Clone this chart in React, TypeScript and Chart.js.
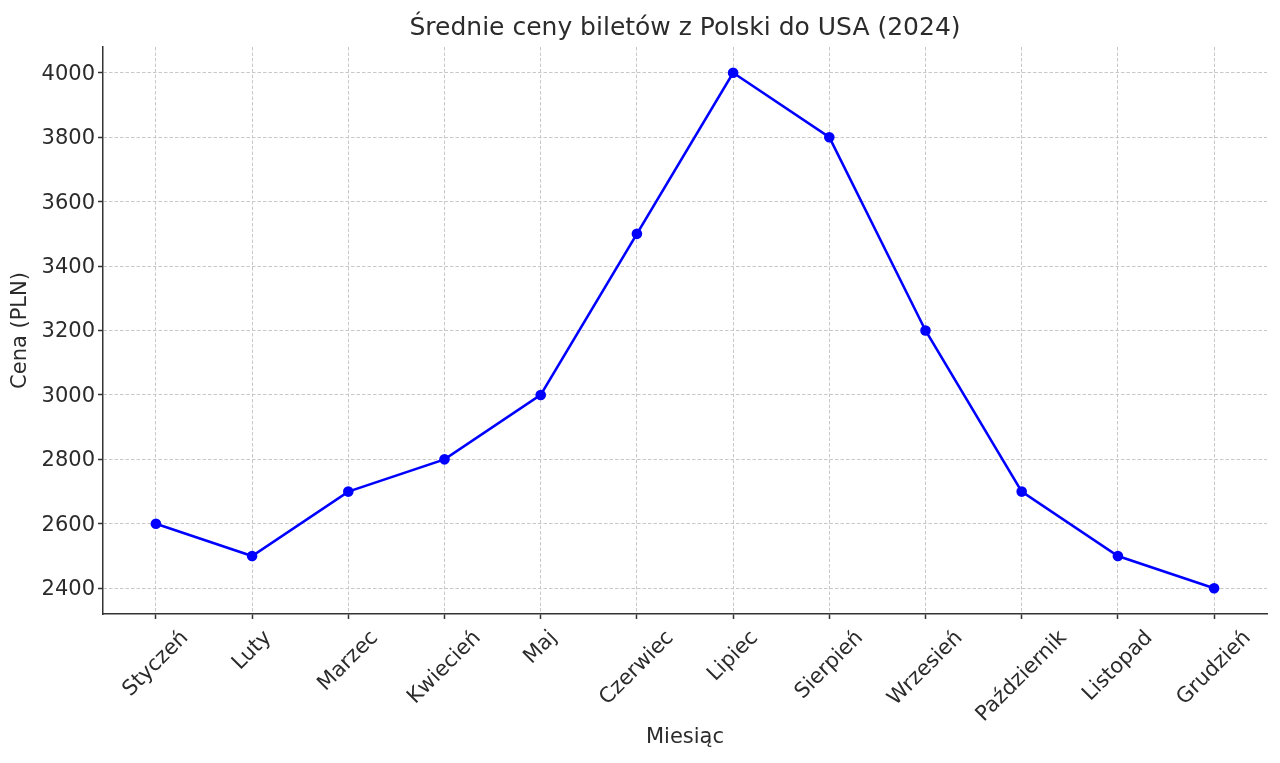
import React, { useEffect, useRef } from "react";
import { Chart, registerables } from "chart.js";

Chart.register(...registerables);

const MONTHS = [
  "Styczeń",
  "Luty",
  "Marzec",
  "Kwiecień",
  "Maj",
  "Czerwiec",
  "Lipiec",
  "Sierpień",
  "Wrzesień",
  "Październik",
  "Listopad",
  "Grudzień",
];
const PRICES = [2600, 2500, 2700, 2800, 3000, 3500, 4000, 3800, 3200, 2700, 2500, 2400];
const Y_TICKS = [2400, 2600, 2800, 3000, 3200, 3400, 3600, 3800, 4000];

const TITLE = "Średnie ceny biletów z Polski do USA (2024)";
const X_TITLE = "Miesiąc";
const Y_TITLE = "Cena (PLN)";

const FONT = "'DejaVu Sans', Verdana, sans-serif";
const TEXT = "#2b2b2b";
const SPINE = "#333333";
const GRID = "#c8c8c8";

const xLabelsPlugin = {
  id: "centeredRotatedXLabels",
  afterDraw(chart: any) {
    const scale = chart.scales.x;
    const ctx = chart.ctx;
    const size = 21;
    ctx.save();
    ctx.font = `${size}px ${FONT}`;
    ctx.fillStyle = TEXT;
    ctx.textAlign = "center";
    ctx.textBaseline = "middle";
    const h = size * 1.164;
    const top = scale.top + 5 + 7;
    const c = Math.SQRT1_2;
    scale.ticks.forEach((t: any) => {
      const label = MONTHS[t.value];
      if (label === undefined) return;
      const w = ctx.measureText(label).width;
      const cx = scale.getPixelForValue(t.value);
      const cy = top + ((w + h) * c) / 2;
      ctx.save();
      ctx.translate(cx, cy);
      ctx.rotate(-Math.PI / 4);
      ctx.fillText(label, 0, 0);
      ctx.restore();
    });
    ctx.restore();
  },
};

export default function App() {
  const ref = useRef<HTMLCanvasElement | null>(null);

  useEffect(() => {
    if (!ref.current) return;
    const chart = new Chart(ref.current, {
      type: "line",
      data: {
        datasets: [
          {
            data: PRICES.map((v, i) => ({ x: i, y: v })),
            borderColor: "#0000ff",
            backgroundColor: "#0000ff",
            borderWidth: 2.6,
            pointRadius: 5.3,
            pointHoverRadius: 5.3,
            pointBorderWidth: 0,
            pointBackgroundColor: "#0000ff",
            tension: 0,
            fill: false,
          },
        ],
      },
      options: {
        animation: false,
        responsive: true,
        maintainAspectRatio: false,
        layout: { padding: { left: 0, right: 13, top: 0, bottom: 0 } },
        plugins: {
          legend: { display: false },
          tooltip: { enabled: false },
          title: {
            display: true,
            text: TITLE,
            fullSize: false,
            color: TEXT,
            font: { family: FONT, size: 25, weight: "normal", lineHeight: 1.2 },
            padding: { top: 13, bottom: 4 },
          },
        },
        scales: {
          x: {
            type: "linear",
            min: -0.55,
            max: 11.55,
            afterBuildTicks: (scale: any) => {
              scale.ticks = MONTHS.map((_, i) => ({ value: i }));
            },
            afterFit: (scale: any) => {
              scale.height = 149;
            },
            ticks: { display: false },
            grid: {
              display: true,
              color: GRID,
              lineWidth: 1,
              drawTicks: true,
              tickLength: 5,
              tickColor: SPINE,
              tickWidth: 1.5,
              tickBorderDash: [],
            } as any,
            border: { display: true, color: SPINE, width: 1.5, dash: [3.5, 2] },
            title: {
              display: true,
              text: X_TITLE,
              color: TEXT,
              font: { family: FONT, size: 21, lineHeight: 1.2 },
              padding: { top: 0, bottom: 12.4 },
            },
          },
          y: {
            type: "linear",
            min: 2320,
            max: 4080,
            afterBuildTicks: (scale: any) => {
              scale.ticks = Y_TICKS.map((v) => ({ value: v }));
            },
            afterFit: (scale: any) => {
              scale.width = 103;
            },
            ticks: {
              color: TEXT,
              font: { family: FONT, size: 21 },
              padding: 3,
              labelOffset: 1.5,
              callback: (v: any) => String(v),
            },
            grid: {
              display: true,
              color: GRID,
              lineWidth: 1,
              drawTicks: true,
              tickLength: 5,
              tickColor: SPINE,
              tickWidth: 1.5,
              tickBorderDash: [],
            } as any,
            border: { display: true, color: SPINE, width: 1.5, dash: [3.5, 2] },
            title: {
              display: true,
              text: Y_TITLE,
              color: TEXT,
              font: { family: FONT, size: 21, lineHeight: 1.2 },
              padding: { top: 8.4, bottom: 0 },
            },
          },
        },
      } as any,
      plugins: [xLabelsPlugin],
    });
    return () => chart.destroy();
  }, []);

  return (
    <div style={{ position: "absolute", left: 0, top: 0, width: 1280, height: 763, background: "#fff" }}>
      <canvas ref={ref} />
    </div>
  );
}
